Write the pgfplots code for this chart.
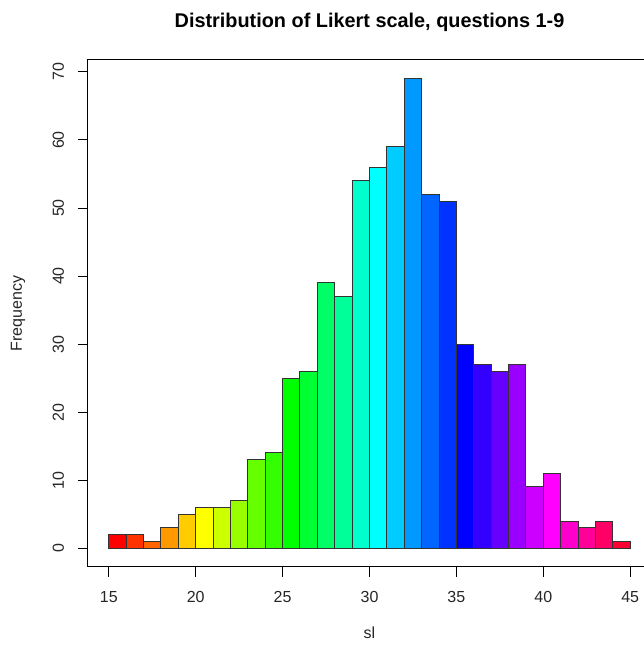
\documentclass[border=0pt]{standalone}
\usepackage{pgfplots}
\pgfplotsset{compat=1.18}
\usepackage{fontspec}
\setmainfont{Liberation Sans}
\definecolor{c0}{rgb}{1,0,0}
\definecolor{c1}{rgb}{1,0.2,0}
\definecolor{c2}{rgb}{1,0.4,0}
\definecolor{c3}{rgb}{1,0.6,0}
\definecolor{c4}{rgb}{1,0.8,0}
\definecolor{c5}{rgb}{1,1,0}
\definecolor{c6}{rgb}{0.8,1,0}
\definecolor{c7}{rgb}{0.6,1,0}
\definecolor{c8}{rgb}{0.4,1,0}
\definecolor{c9}{rgb}{0.2,1,0}
\definecolor{c10}{rgb}{0,1,0}
\definecolor{c11}{rgb}{0,1,0.2}
\definecolor{c12}{rgb}{0,1,0.4}
\definecolor{c13}{rgb}{0,1,0.6}
\definecolor{c14}{rgb}{0,1,0.8}
\definecolor{c15}{rgb}{0,1,1}
\definecolor{c16}{rgb}{0,0.8,1}
\definecolor{c17}{rgb}{0,0.6,1}
\definecolor{c18}{rgb}{0,0.4,1}
\definecolor{c19}{rgb}{0,0.2,1}
\definecolor{c20}{rgb}{0,0,1}
\definecolor{c21}{rgb}{0.2,0,1}
\definecolor{c22}{rgb}{0.4,0,1}
\definecolor{c23}{rgb}{0.6,0,1}
\definecolor{c24}{rgb}{0.8,0,1}
\definecolor{c25}{rgb}{1,0,1}
\definecolor{c26}{rgb}{1,0,0.8}
\definecolor{c27}{rgb}{1,0,0.6}
\definecolor{c28}{rgb}{1,0,0.4}
\definecolor{c29}{rgb}{1,0,0.2}
\begin{document}
\begin{tikzpicture}
\begin{axis}[
  at={(66pt,58.5pt)}, anchor=south west,
  scale only axis, width=422.25pt, height=380.25pt,
  xmin=13.8, xmax=46.2, ymin=-2.76, ymax=71.76,
  xtick={15,20,...,45}, ytick={0,10,...,70},
  tick pos=left,
  tick align=outside, major tick length=7.5pt,
  tick style={black, line width=0.75pt},
  axis line style={line width=0.75pt},
  /pgf/number format/assume math mode=true,
  tick label style={font=\fontsize{12}{14}\selectfont, text=black!85},
  xticklabel style={yshift=-7pt},
  yticklabel style={xshift=-7pt, rotate=90, anchor=south},
  no markers,
  title={Distribution of Likert scale, questions 1-9},
  every axis title/.style={at={(axis description cs:0.5,1.0736)}, anchor=center, font=\fontsize{14.9}{17}\selectfont\bfseries},
  xlabel={sl}, ylabel={Frequency},
  every axis x label/.style={at={(axis description cs:0.5,-0.1302)}, anchor=center, font=\fontsize{12}{14}\selectfont, text=black!85},
  every axis y label/.style={at={(axis description cs:-0.1243,0.5)}, rotate=90, anchor=center, font=\fontsize{12}{14}\selectfont, text=black!85},
  bars/.style={ybar interval, draw=black!80, line width=0.75pt},
]
\addplot[bars, fill=c0] coordinates {(15,2) (16,2)};
\addplot[bars, fill=c1] coordinates {(16,2) (17,2)};
\addplot[bars, fill=c2] coordinates {(17,1) (18,1)};
\addplot[bars, fill=c3] coordinates {(18,3) (19,3)};
\addplot[bars, fill=c4] coordinates {(19,5) (20,5)};
\addplot[bars, fill=c5] coordinates {(20,6) (21,6)};
\addplot[bars, fill=c6] coordinates {(21,6) (22,6)};
\addplot[bars, fill=c7] coordinates {(22,7) (23,7)};
\addplot[bars, fill=c8] coordinates {(23,13) (24,13)};
\addplot[bars, fill=c9] coordinates {(24,14) (25,14)};
\addplot[bars, fill=c10] coordinates {(25,25) (26,25)};
\addplot[bars, fill=c11] coordinates {(26,26) (27,26)};
\addplot[bars, fill=c12] coordinates {(27,39) (28,39)};
\addplot[bars, fill=c13] coordinates {(28,37) (29,37)};
\addplot[bars, fill=c14] coordinates {(29,54) (30,54)};
\addplot[bars, fill=c15] coordinates {(30,56) (31,56)};
\addplot[bars, fill=c16] coordinates {(31,59) (32,59)};
\addplot[bars, fill=c17] coordinates {(32,69) (33,69)};
\addplot[bars, fill=c18] coordinates {(33,52) (34,52)};
\addplot[bars, fill=c19] coordinates {(34,51) (35,51)};
\addplot[bars, fill=c20] coordinates {(35,30) (36,30)};
\addplot[bars, fill=c21] coordinates {(36,27) (37,27)};
\addplot[bars, fill=c22] coordinates {(37,26) (38,26)};
\addplot[bars, fill=c23] coordinates {(38,27) (39,27)};
\addplot[bars, fill=c24] coordinates {(39,9) (40,9)};
\addplot[bars, fill=c25] coordinates {(40,11) (41,11)};
\addplot[bars, fill=c26] coordinates {(41,4) (42,4)};
\addplot[bars, fill=c27] coordinates {(42,3) (43,3)};
\addplot[bars, fill=c28] coordinates {(43,4) (44,4)};
\addplot[bars, fill=c29] coordinates {(44,1) (45,1)};
\end{axis}
\pgfresetboundingbox
\path[use as bounding box] (0,0) rectangle (482.25pt,483.75pt);
\end{tikzpicture}
\end{document}
